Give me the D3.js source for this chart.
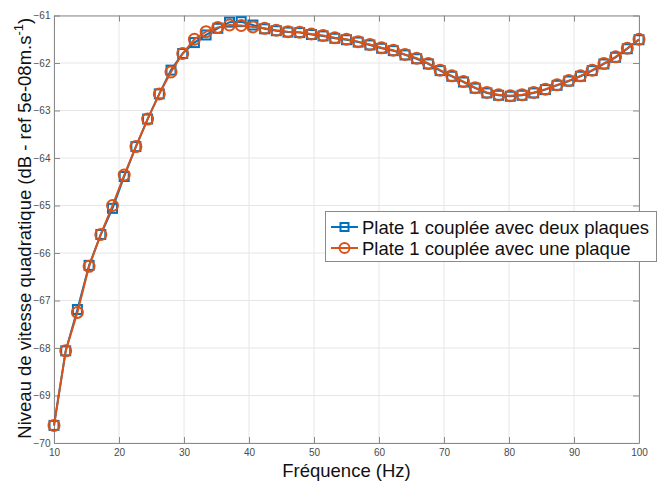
<!DOCTYPE html>
<html><head><meta charset="utf-8">
<script src="https://cdn.jsdelivr.net/npm/d3@7"></script>
<style>body{margin:0;background:#fff}svg{display:block}</style>
</head><body><div id="chart"></div>
<script>
const freqStart = 10, freqStep = 1.8;
const seriesNames = ["Plate 1 couplée avec deux plaques", "Plate 1 couplée avec une plaque"];
const deuxPlaques = [-69.63,-68.06,-67.19,-66.26,-65.61,-65.06,-64.39,-63.76,-63.18,-62.65,
  -62.15,-61.80,-61.57,-61.41,-61.27,-61.14,-61.13,-61.20,-61.28,-61.32,
  -61.35,-61.36,-61.40,-61.43,-61.48,-61.51,-61.56,-61.62,-61.69,-61.74,
  -61.83,-61.91,-62.02,-62.16,-62.28,-62.40,-62.53,-62.63,-62.68,-62.70,
  -62.68,-62.63,-62.56,-62.47,-62.38,-62.28,-62.16,-62.02,-61.88,-61.70,-61.51];
const unePlaque = [-69.63,-68.06,-67.25,-66.28,-65.61,-65.00,-64.36,-63.76,-63.18,-62.65,
  -62.19,-61.80,-61.50,-61.34,-61.25,-61.20,-61.21,-61.24,-61.27,-61.31,
  -61.34,-61.35,-61.39,-61.42,-61.47,-61.50,-61.55,-61.61,-61.68,-61.73,
  -61.82,-61.90,-62.01,-62.15,-62.27,-62.39,-62.52,-62.62,-62.67,-62.69,
  -62.67,-62.62,-62.55,-62.46,-62.37,-62.27,-62.15,-62.01,-61.87,-61.69,-61.50];
const xTicks = [10,20,30,40,50,60,70,80,90,100];
const yTicks = [-61,-62,-63,-64,-65,-66,-67,-68,-69,-70];
const colors = ["#0072BD", "#D95319"];

const W = 657, H = 481;
const m = {left: 54, right: 639, top: 15.5, bottom: 443};
const svg = d3.select("#chart").append("svg").attr("width", W).attr("height", H)
  .style("font-family", "'Liberation Sans', Arial, Helvetica, sans-serif");

const x = d3.scaleLinear().domain([10, 100]).range([m.left, m.right]);
const y = d3.scaleLinear().domain([-70, -61]).range([m.bottom, m.top]);

// grid
const grid = svg.append("g");
grid.selectAll("line.gx").data(xTicks).join("line")
  .attr("x1", d => x(d)).attr("x2", d => x(d)).attr("y1", m.top).attr("y2", m.bottom)
  .attr("stroke", "#e6e6e6").attr("stroke-width", 1);
grid.selectAll("line.gy").data(yTicks).join("line")
  .attr("y1", d => y(d)).attr("y2", d => y(d)).attr("x1", m.left).attr("x2", m.right)
  .attr("stroke", "#e6e6e6").attr("stroke-width", 1);

const axColor = "#8a8a8a", lblColor = "#4a4a4a";
const xAxis = d3.axisBottom(x).tickValues(xTicks).tickSizeInner(-6).tickSizeOuter(0).tickPadding(6);
const yAxis = d3.axisLeft(y).tickValues(yTicks).tickSizeInner(-6).tickSizeOuter(0).tickPadding(3.5);
const xTop = d3.axisTop(x).tickValues(xTicks).tickSizeInner(-6).tickSizeOuter(0).tickFormat("");
const yRight = d3.axisRight(y).tickValues(yTicks).tickSizeInner(-6).tickSizeOuter(0).tickFormat("");

function style(g) {
  g.selectAll("path").attr("stroke", axColor);
  g.selectAll("line").attr("stroke", axColor);
  g.selectAll("text").attr("fill", lblColor).style("font-size", "10px")
    .style("font-family", "'Liberation Sans', Arial, sans-serif");
}
svg.append("g").attr("transform", `translate(0,${m.bottom})`).call(xAxis).call(style);
svg.append("g").attr("transform", `translate(${m.left},0)`).call(yAxis).call(style);
svg.append("g").attr("transform", `translate(0,${m.top})`).call(xTop).call(style);
svg.append("g").attr("transform", `translate(${m.right},0)`).call(yRight).call(style);

const allSeries = [deuxPlaques, unePlaque];
const line = d3.line().x((d, i) => x(freqStart + freqStep * i)).y(d => y(d));

allSeries.forEach((s, k) => {
  const g = svg.append("g");
  g.append("path").datum(s).attr("d", line).attr("fill", "none")
    .attr("stroke", colors[k]).attr("stroke-width", 2);
  if (k === 0) {
    g.selectAll("rect").data(s).join("rect")
      .attr("x", (d, i) => x(freqStart + freqStep * i) - 4.5)
      .attr("y", d => y(d) - 4.5).attr("width", 9).attr("height", 9)
      .attr("fill", "none").attr("stroke", colors[k]).attr("stroke-width", 2);
  } else {
    g.selectAll("circle").data(s).join("circle")
      .attr("cx", (d, i) => x(freqStart + freqStep * i))
      .attr("cy", d => y(d)).attr("r", 5.5)
      .attr("fill", "none").attr("stroke", colors[k]).attr("stroke-width", 2);
  }
});

// axis labels
svg.append("text").attr("x", (m.left + m.right) / 2).attr("y", 477)
  .attr("text-anchor", "middle").style("font-size", "18.5px").attr("fill", "#111")
  .text("Fréquence (Hz)");
const yl = svg.append("text").attr("transform", `translate(31,${(m.top + m.bottom) / 2 - 1}) rotate(-90)`)
  .attr("text-anchor", "middle").style("font-size", "18.5px").attr("fill", "#111");
yl.append("tspan").text("Niveau de vitesse quadratique (dB - ref 5e-08m.s");
yl.append("tspan").attr("dy", -8).style("font-size", "13px").text("-1");
yl.append("tspan").attr("dy", 8).text(")");

// legend
const lg = svg.append("g");
lg.append("rect").attr("x", 325.5).attr("y", 211.5).attr("width", 331).attr("height", 50)
  .attr("fill", "#fff").attr("stroke", "#8a8a8a").attr("stroke-width", 1);
seriesNames.forEach((n, k) => {
  const cy = 227 + k * 21;
  lg.append("line").attr("x1", 331).attr("x2", 358).attr("y1", cy).attr("y2", cy)
    .attr("stroke", colors[k]).attr("stroke-width", 2);
  if (k === 0) lg.append("rect").attr("x", 340.5).attr("y", cy - 4).attr("width", 8).attr("height", 8)
    .attr("fill", "none").attr("stroke", colors[k]).attr("stroke-width", 2);
  else lg.append("circle").attr("cx", 344.5).attr("cy", cy).attr("r", 5)
    .attr("fill", "none").attr("stroke", colors[k]).attr("stroke-width", 2);
  lg.append("text").attr("x", 362).attr("y", cy + 6.5).style("font-size", "18.5px").attr("fill", "#111").text(n);
});
</script></body></html>
